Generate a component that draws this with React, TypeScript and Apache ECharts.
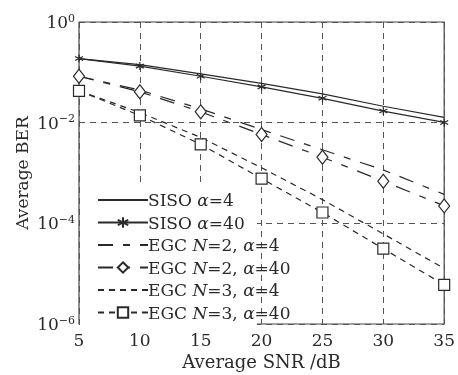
import React, { useEffect, useRef } from "react";
import * as echarts from "echarts";

const snr = [5, 10, 15, 20, 25, 30, 35];
const sisoA4 = [0.188, 0.142, 0.0935, 0.0603, 0.0374, 0.0212, 0.0127];
const sisoA40 = [0.188, 0.133, 0.0835, 0.0515, 0.0305, 0.017, 0.0101];
const egcN2A4 = [0.0835, 0.0444, 0.0188, 0.0073, 0.00289, 0.00115, 0.000376];
const egcN2A40 = [0.0835, 0.0411, 0.0164, 0.00582, 0.00206, 0.000687, 0.000222];
const egcN3A4 = [0.043, 0.0159, 0.00508, 0.00127, 0.000296, 6.17e-5, 1.27e-5];
const egcN3A40 = [0.043, 0.0139, 0.00371, 0.000773, 0.000164, 3.13e-5, 6.0e-6];

const seriesNames = [
  "SISO α=4",
  "SISO α=40",
  "EGC N=2, α=4",
  "EGC N=2, α=40",
  "EGC N=3, α=4",
  "EGC N=3, α=40",
];
const noMarker = [true, false, true, false, true, false];

const FONT = "DejaVu Serif";
const INK = "#2a2a2a";
const STAR = "path://M0,-5L0,5M-4.33,-2.5L4.33,2.5M-4.33,2.5L4.33,-2.5";

const pairs = (ys: number[]) => snr.map((x, i) => [x, ys[i]]);

export default function App() {
  const ref = useRef<HTMLDivElement>(null);
  useEffect(() => {
    if (!ref.current) return;
    const chart = echarts.init(ref.current, undefined, { renderer: "svg" });
    const line = (type: any, width = 1.2) => ({ color: INK, width, type });
    const dashN2 = [15, 10, 7, 10];
    const dashN3 = [6, 5];
    chart.setOption({
      animation: false,
      textStyle: { fontFamily: FONT, color: INK },
      grid: {
        left: 79,
        right: 11,
        top: 22,
        bottom: 48,
        show: true,
        borderColor: "#444",
        borderWidth: 1.2,
        backgroundColor: "transparent",
      },
      graphic: [
        {
          type: "rect",
          z: 1,
          shape: { x: 80, y: 184, width: 177, height: 142 },
          style: { fill: "#fff" },
          silent: true,
        },
      ],
      legend: {
        orient: "vertical",
        left: 92,
        top: 186,
        itemWidth: 50,
        itemHeight: 13,
        itemGap: 4.5,
        data: seriesNames.map((n, i) =>
          noMarker[i] ? { name: n, itemStyle: { opacity: 0 } } : { name: n }
        ),
        textStyle: {
          fontFamily: FONT,
          fontSize: 17,
          lineHeight: 18,
          color: INK,
          padding: [0, 0, 0, -5],
          rich: {
            i: { fontFamily: FONT, fontSize: 17, fontStyle: "italic", color: INK },
          },
        },
        formatter: (name: string) =>
          name.replace(/N=/g, "{i|N}=").replace(/α/g, "{i|α}"),
      },
      xAxis: {
        type: "value",
        min: 5,
        max: 35,
        interval: 5,
        name: "Average SNR /dB",
        nameLocation: "middle",
        nameMoveOverlap: false,
        nameGap: 28,
        nameTextStyle: { fontFamily: FONT, fontSize: 18, color: INK },
        axisLine: { show: false },
        axisTick: { show: false },
        axisLabel: { fontFamily: FONT, fontSize: 17, color: INK, margin: 7 },
        splitLine: {
          show: true,
          lineStyle: { color: "#555", type: [6, 5], width: 1 },
        },
      },
      yAxis: {
        type: "log",
        logBase: 10,
        min: 1e-6,
        max: 1,
        interval: 2,
        name: "Average BER",
        nameLocation: "middle",
        nameMoveOverlap: false,
        nameGap: 49,
        nameTextStyle: { fontFamily: FONT, fontSize: 17, color: INK },
        axisLine: { show: false },
        axisTick: { show: false },
        axisLabel: {
          margin: 4,
          formatter: (v: number) => {
            const e = Math.round(Math.log10(v));
            return `{b|10}{s|${e < 0 ? "−" + -e : e}}`;
          },
          rich: {
            b: { fontFamily: FONT, fontSize: 17, color: INK },
            s: { fontFamily: FONT, fontSize: 11, color: INK, padding: [0, 0, 8, 0] },
          },
        },
        splitLine: {
          show: true,
          lineStyle: { color: "#555", type: [6, 5], width: 1 },
        },
      },
      series: [
        {
          name: seriesNames[0],
          type: "line",
          data: pairs(sisoA4),
          symbol: "none",
          lineStyle: line("solid"),
          itemStyle: { color: INK },
        },
        {
          name: seriesNames[1],
          type: "line",
          data: pairs(sisoA40),
          symbol: STAR,
          symbolSize: 8,
          lineStyle: line("solid"),
          itemStyle: { color: INK, borderColor: INK, borderWidth: 1.2 },
        },
        {
          name: seriesNames[2],
          type: "line",
          data: pairs(egcN2A4),
          symbol: "none",
          lineStyle: line(dashN2),
          itemStyle: { color: INK },
        },
        {
          name: seriesNames[3],
          type: "line",
          data: pairs(egcN2A40),
          symbol: "diamond",
          symbolSize: [11, 14],
          lineStyle: line(dashN2),
          itemStyle: { color: "#fff", borderColor: INK, borderWidth: 1.2 },
        },
        {
          name: seriesNames[4],
          type: "line",
          data: pairs(egcN3A4),
          symbol: "none",
          lineStyle: line(dashN3),
          itemStyle: { color: INK },
        },
        {
          name: seriesNames[5],
          type: "line",
          data: pairs(egcN3A40),
          symbol: "rect",
          symbolSize: 11,
          lineStyle: line(dashN3),
          itemStyle: { color: "#fff", borderColor: INK, borderWidth: 1.2 },
        },
      ],
    });
    return () => chart.dispose();
  }, []);
  return (
    <div
      ref={ref}
      style={{ position: "fixed", left: 0, top: 0, width: 458, height: 375 }}
    />
  );
}
